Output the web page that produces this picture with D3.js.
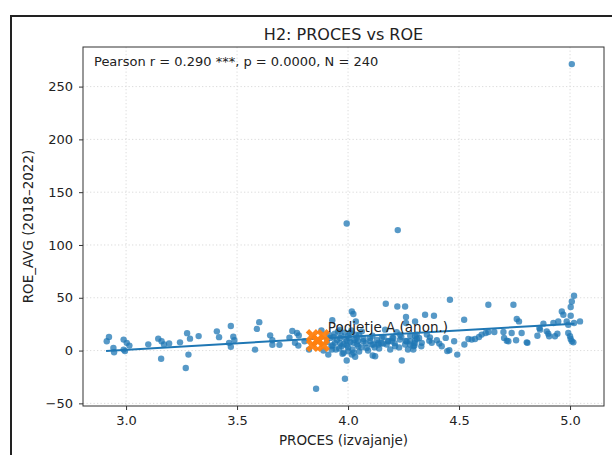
<!DOCTYPE html>
<html>
<head>
<meta charset="utf-8">
<script src="https://cdn.jsdelivr.net/npm/d3@7"></script>
<style>
  body { margin: 0; background: #fff; }
  text { font-family: "DejaVu Sans", sans-serif; fill: #222; }
</style>
</head>
<body>
<svg id="chart" width="612" height="455"></svg>
<script>
const titleText = "H2: PROCES vs ROE";
const statText = "Pearson r = 0.290 ***, p = 0.0000, N = 240";
const xLabel = "PROCES (izvajanje)";
const yLabel = "ROE_AVG (2018–2022)";
const xTicks = [3.0, 3.5, 4.0, 4.5, 5.0];
const yTicks = [-50, 0, 50, 100, 150, 200, 250];
const xLimits = [2.806, 5.153];
const yLimits = [-52.5, 287.5];

// company scores (PROCES) and 5-year average ROE
const procX = [
  2.913, 2.923, 2.943, 2.946, 2.989, 2.989, 3.003, 3.015, 2.995, 3.100, 3.145, 3.160, 3.171, 3.194, 3.158, 3.243,
  3.275, 3.288, 3.281, 3.269, 3.327, 3.409, 3.419, 3.472, 3.483, 3.488, 3.472, 3.464, 3.600, 3.589, 3.581, 3.649,
  3.659, 3.659, 3.691, 3.736, 3.749, 3.770, 3.778, 3.761, 3.776, 3.824, 3.804, 3.856, 3.880, 3.889, 3.929,
  3.941, 3.927, 3.964, 3.971, 3.994, 4.001, 4.024, 4.039, 4.046, 4.069, 4.084, 4.099, 4.107, 4.136, 4.152, 4.174,
  4.197, 4.212, 4.234, 4.257, 4.279, 4.294, 3.911, 4.017, 4.122, 4.032, 3.964, 4.009, 4.062, 4.167, 4.170, 4.222,
  4.257, 4.261, 4.261, 4.017, 4.024, 4.035, 3.994, 3.986, 4.242, 3.994, 4.224, 5.008,
  3.93, 3.95, 3.96, 3.97, 3.98, 3.99, 4.00, 4.00, 4.01, 4.02, 4.03, 4.04, 4.05, 4.06, 4.07, 4.08,
  4.09, 4.10, 4.11, 4.12, 4.13, 4.14, 4.15, 4.16, 4.18, 4.19, 4.20, 4.21, 4.23, 4.24, 4.26, 4.27,
  4.28, 4.30, 4.31, 4.33, 3.94, 3.98, 4.05, 3.92,
  3.905, 3.915, 3.925, 3.935, 3.945, 3.955, 3.965, 3.975, 3.985, 3.995, 4.005, 4.015, 4.025, 4.035, 4.045,
  4.459, 4.347, 4.387, 4.302, 4.523, 4.632, 4.745, 4.760, 4.770, 4.492, 4.456, 4.524, 4.542, 4.557, 4.572, 4.590,
  4.602, 4.620, 4.632, 4.659, 4.700, 4.703, 4.715, 4.737, 4.757, 4.805, 4.782, 4.853, 4.862, 4.880, 4.895, 4.902,
  4.943, 4.925, 4.947, 4.963, 4.970, 5.003, 4.985, 5.003, 5.018, 5.008, 4.992, 4.992, 5.000, 5.003, 5.008, 5.015,
  5.045, 5.018, 4.264, 4.302, 4.309, 4.320, 4.366, 4.400, 4.411, 4.422, 4.294, 4.299, 4.355, 4.369, 4.219, 4.234,
  4.204, 4.182, 4.159, 4.137, 4.114, 4.111,
  4.377, 4.332, 4.279, 4.302, 4.906, 4.932, 4.865, 4.808, 4.722, 4.478, 4.447, 4.440
];
const roeY = [
  8.8, 12.9, 2.5, -1.6, 10.4, 0.9, 7.3, 4.7, -0.5, 5.9, 11.3, 8.8, 5.7, 6.8, -7.8, 7.8,
  16.5, 11.3, -3.8, -16.5, 13.7, 18.2, 12.7, 23.3, 13.2, 9.9, 3.5, 7.3, 26.9, 20.5, 0.9, 14.4,
  9.7, 5.4, 5.4, 12.3, 18.6, 16.7, 14.3, 7.3, 4.7, 0.9, 8.8, -36.1, 19.1, 0.0, 28.8,
  7.3, 0.9, 12.0, 4.1, 8.8, -0.7, 7.3, 12.0, 4.1, 8.8, 2.5, 12.0, 5.7, 7.3, 12.0, 5.7,
  8.8, 4.1, 10.4, 5.7, 8.8, 4.1, -3.8, -3.8, -5.4, -5.9, 19.8, 16.7, 18.2, 19.8, 44.3, 41.8,
  41.8, 31.8, 26.1, 37.1, 34.6, 27.6, -9.4, -26.7, -9.4, 120.4, 114.1, 271.3,
  5, 10, 2, 14, 6, 11, 3, 14, 8, 1, 10, 6, 15, 3, 11, 7,
  0, 9, 14, 3, 10, 2, 7, 13, 9, 1, 12, 7, 3, 13, 9, 1,
  14, 7, 11, 4, 16, -2, -1, 12,
  8, 15, 4, 13, 1, 18, 7, -3, 17, 5, 12, 19, -2, 15, 9,
  48.1, 33.9, 33.0, 27.6, 29.2, 43.4, 43.4, 29.9, 27.6, -3.8, 0.3, 5.7, 11.0, 10.4, 11.0, 12.9,
  15.1, 16.7, 17.6, 17.6, 17.6, 12.0, 9.4, 16.7, 9.7, 7.8, 16.7, 14.1, 21.4, 25.5, 18.2, 16.0,
  16.0, 26.1, 27.6, 37.1, 33.9, 33.0, 27.6, 41.2, 51.9, 46.5, 24.5, 16.7, 13.5, 11.0, 8.8, 7.8,
  27.6, 26.1, 8.8, 9.7, 15.1, 12.0, 9.4, 9.7, 6.6, 4.1, 0.9, 4.7, 15.1, 12.5, 17.3, 15.1,
  12.0, 8.8, 6.6, 5.7, 5.7, -4.7,
  7.3, 7.3, 5.7, 13.5, 13.5, 13.5, 19.8, 7.3, 8.8, 8.8, -0.5, 12.0
];

// highlighted company
const firmLabel = "Podjetje A (anon.)";
const firmX = [3.840, 3.888, 3.840, 3.888, 3.864];
const firmY = [14, 14, 5, 5, 9.5];

// fitted regression line ends
const fitX = [2.91, 5.02];
const fitY = [-0.3, 25.5];

const svg = d3.select("#chart");
const plot = { left: 83, right: 604, top: 47, bottom: 406 };

const x = d3.scaleLinear().domain(xLimits).range([plot.left, plot.right]);
const y = d3.scaleLinear().domain(yLimits).range([plot.bottom, plot.top]);

// outer figure frame
svg.append("path")
  .attr("d", "M11,455 V16 H612")
  .attr("fill", "none")
  .attr("stroke", "#222")
  .attr("stroke-width", 2);

// grid
const grid = svg.append("g").attr("stroke", "#dcdcdc").attr("stroke-width", 1).attr("stroke-dasharray", "1.3,2.2");
grid.selectAll(".gx").data(xTicks).join("line")
  .attr("x1", d => x(d)).attr("x2", d => x(d))
  .attr("y1", plot.top).attr("y2", plot.bottom);
grid.selectAll(".gy").data(yTicks).join("line")
  .attr("y1", d => y(d)).attr("y2", d => y(d))
  .attr("x1", plot.left).attr("x2", plot.right);

// points
const pts = procX.map((v, i) => ({ x: v, y: roeY[i] }));
svg.append("g").selectAll("circle").data(pts).join("circle")
  .attr("cx", d => x(d.x))
  .attr("cy", d => y(d.y))
  .attr("r", 3.2)
  .attr("fill", "#1f77b4")
  .attr("fill-opacity", 0.75);

// regression line
const line = d3.line().x(d => x(d[0])).y(d => y(d[1]));
svg.append("path")
  .datum(fitX.map((v, i) => [v, fitY[i]]))
  .attr("d", line)
  .attr("fill", "none")
  .attr("stroke", "#1f77b4")
  .attr("stroke-width", 2);

// company A markers
const xMark = d3.symbol().type(d3.symbolCross).size(115);
svg.append("g").selectAll("path").data(firmX.map((v, i) => [v, firmY[i]])).join("path")
  .attr("d", xMark)
  .attr("transform", d => `translate(${x(d[0])},${y(d[1])}) rotate(45)`)
  .attr("fill", "#ff7f0e")
  .attr("fill-opacity", 0.95);

svg.append("text")
  .attr("x", x(firmX[4]) + 10)
  .attr("y", y(firmY[4]) - 9)
  .attr("font-size", 13.5)
  .text(firmLabel);

// axes
const xAxis = svg.append("g")
  .attr("transform", `translate(0,${plot.bottom})`)
  .call(d3.axisBottom(x).tickValues(xTicks).tickFormat(d3.format(".1f")).tickSize(4).tickPadding(6).tickSizeOuter(0));
const yAxis = svg.append("g")
  .attr("transform", `translate(${plot.left},0)`)
  .call(d3.axisLeft(y).tickValues(yTicks).tickSize(4).tickPadding(6).tickSizeOuter(0));
[xAxis, yAxis].forEach(a => {
  a.select(".domain").remove();
  a.selectAll("line").attr("stroke", "#333");
  a.selectAll("text").attr("font-size", 13).attr("fill", "#222").style("font-family", "DejaVu Sans, sans-serif");
});

// plot frame
svg.append("rect")
  .attr("x", plot.left).attr("y", plot.top)
  .attr("width", plot.right - plot.left).attr("height", plot.bottom - plot.top)
  .attr("fill", "none").attr("stroke", "#333").attr("stroke-width", 1);

// texts
svg.append("text")
  .attr("x", (plot.left + plot.right) / 2).attr("y", 40)
  .attr("text-anchor", "middle").attr("font-size", 16)
  .text(titleText);

svg.append("text")
  .attr("x", plot.left + 11).attr("y", 66)
  .attr("font-size", 13)
  .text(statText);

svg.append("text")
  .attr("x", (plot.left + plot.right) / 2).attr("y", 445)
  .attr("text-anchor", "middle").attr("font-size", 13.5)
  .text(xLabel);

svg.append("text")
  .attr("transform", `translate(33,${(plot.top + plot.bottom) / 2}) rotate(-90)`)
  .attr("text-anchor", "middle").attr("font-size", 13.5)
  .text(yLabel);
</script>
</body>
</html>
